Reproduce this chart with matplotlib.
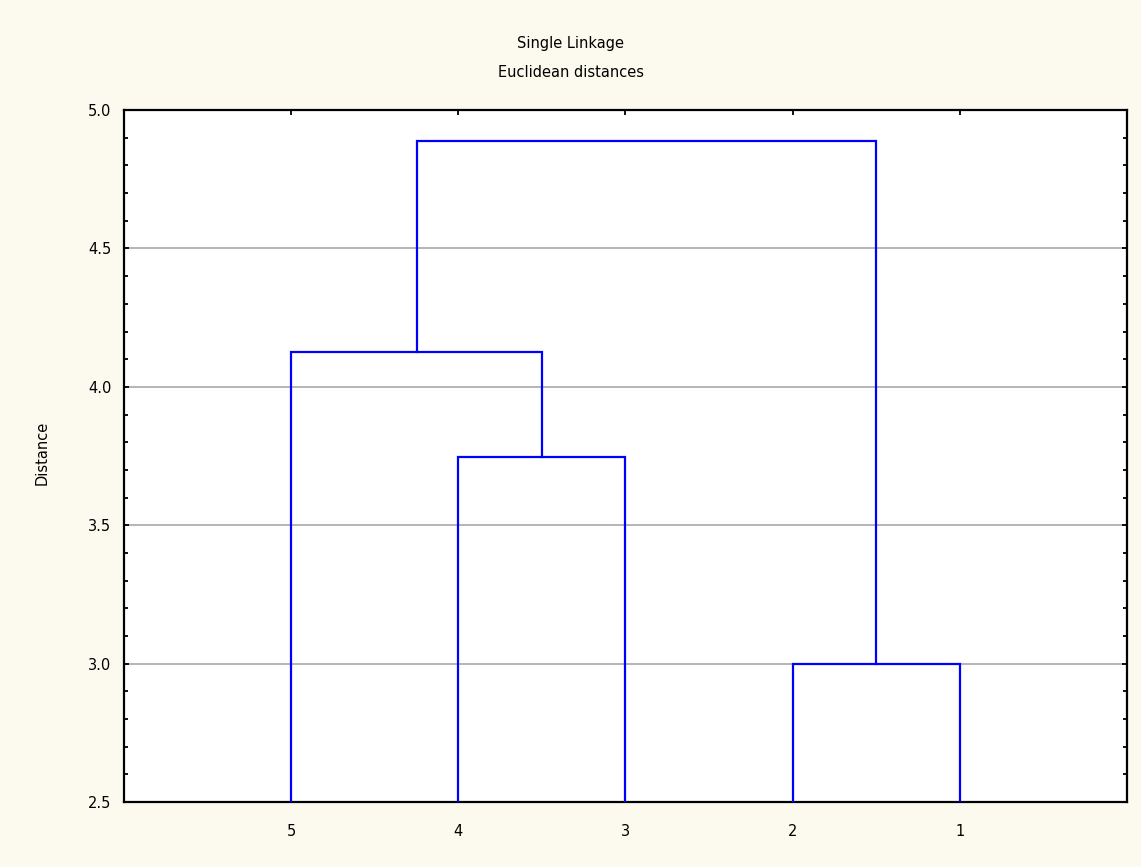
import matplotlib
matplotlib.use("Agg")
import matplotlib.pyplot as plt
from matplotlib.ticker import MultipleLocator

# Data
leaf_labels = ['5', '4', '3', '2', '1']
# linkage rows: child_a, child_b, merge distance (leaves 0..4 in display order, clusters 5..)
merge_a = [3, 1, 0, 7]
merge_b = [4, 2, 6, 5]
merge_h = [3.0, 3.745, 4.125, 4.89]
title_lines = ['Single Linkage', 'Euclidean distances']
y_ticks = [2.5, 3.0, 3.5, 4.0, 4.5, 5.0]

bg = '#fcf9ef'
fig = plt.figure(figsize=(11.41, 8.67), dpi=100, facecolor=bg)
ax = fig.add_axes([0.1087, 0.075, 0.879, 0.798])
ax.set_facecolor('white')

ymin = 2.5
xs = {i: i + 1 for i in range(len(leaf_labels))}
hs = {i: ymin for i in range(len(leaf_labels))}
nid = len(leaf_labels)
for a, b, h in zip(merge_a, merge_b, merge_h):
    ax.plot([xs[a], xs[a], xs[b], xs[b]], [hs[a], h, h, hs[b]],
            color='#0000ff', lw=1.6, solid_joinstyle='miter', zorder=3)
    xs[nid] = (xs[a] + xs[b]) / 2
    hs[nid] = h
    nid += 1

ax.set_xlim(0, len(leaf_labels) + 1)
ax.set_ylim(2.5, 5.0)
ax.set_xticks(range(1, len(leaf_labels) + 1))
ax.set_xticklabels(leaf_labels)
ax.set_yticks(y_ticks)
ax.set_yticklabels([f'{v:.1f}' for v in y_ticks])
ax.yaxis.set_minor_locator(MultipleLocator(0.1))
ax.grid(axis='y', which='major', color='#a8a8a8', lw=1.2, zorder=1)
ax.tick_params(axis='both', which='both', direction='in', top=True, right=True,
               labelsize=10.5, colors='black')
ax.tick_params(axis='both', which='major', length=3.5, width=1.3)
ax.tick_params(axis='x', which='major', pad=16)
ax.tick_params(axis='y', which='major', pad=9)
ax.tick_params(axis='y', which='minor', length=3, width=1.3)
for s in ax.spines.values():
    s.set_linewidth(1.6)
    s.set_color('black')

ax.set_ylabel('Distance', fontsize=10.5)
ax.yaxis.set_label_coords(-0.074, 0.505)
fig.text(0.5, 0.950, title_lines[0], ha='center', va='center', fontsize=10.5)
fig.text(0.5, 0.916, title_lines[1], ha='center', va='center', fontsize=10.5)

fig.savefig('out.png', dpi=100, facecolor=bg)
